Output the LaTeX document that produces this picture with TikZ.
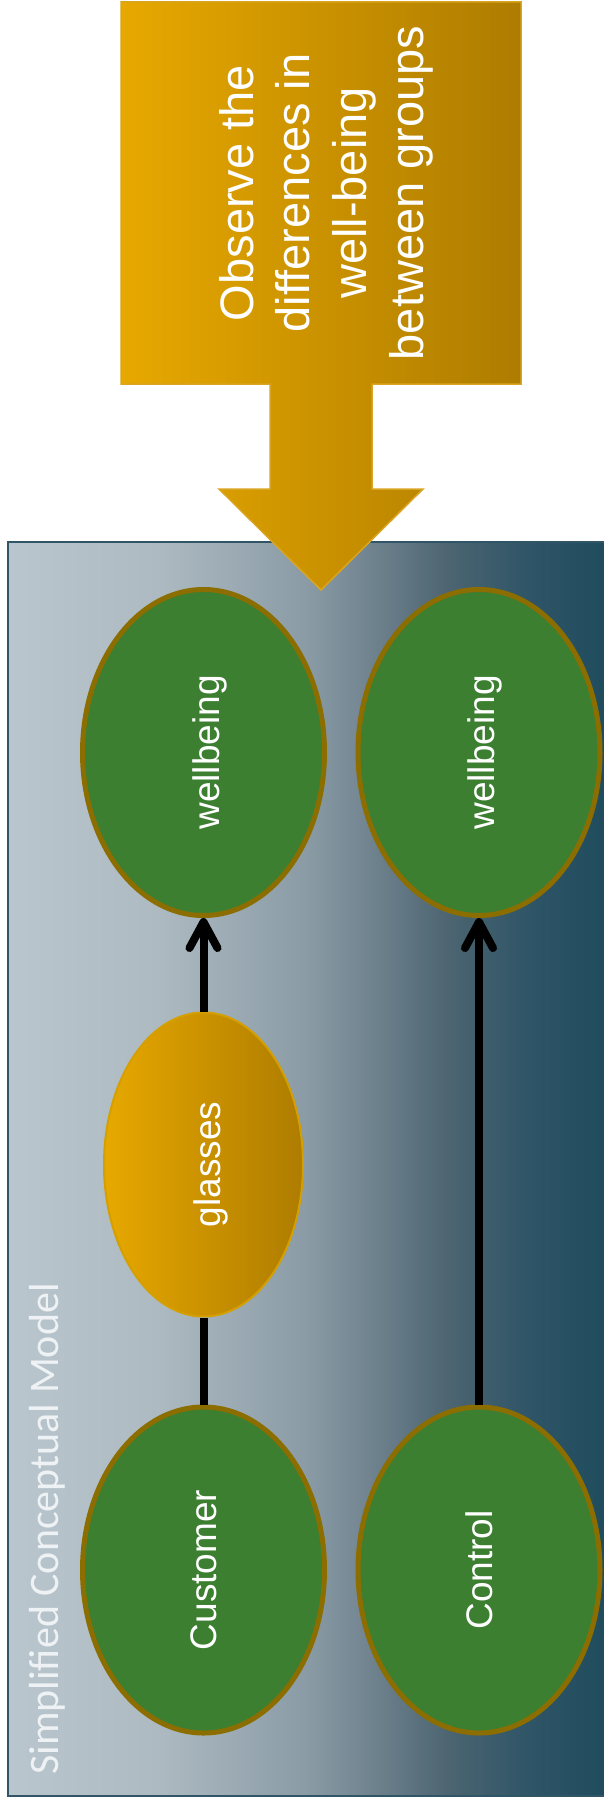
\documentclass[tikz,border=0pt]{standalone}
\usepackage{fontspec}
\usepackage{graphicx}
\setmainfont{Liberation Sans}
\newfontfamily\titlefont{Carlito}
\usetikzlibrary{arrows.meta,shapes.geometric}
\definecolor{ellgreen}{HTML}{3C7F31}
\definecolor{ellborder}{HTML}{8C6D00}
\definecolor{goldL}{HTML}{E7A800}
\definecolor{goldR}{HTML}{AE7C00}
\definecolor{calloutborder}{HTML}{D9A520}
\definecolor{glsborder}{HTML}{D49F00}
\definecolor{panelborder}{HTML}{2F5566}
\definecolor{titlecol}{HTML}{EEF2F4}
\definecolor{pA}{HTML}{BAC6CE}
\definecolor{pB}{HTML}{ADBAC2}
\definecolor{pC}{HTML}{8A9BA5}
\definecolor{pD}{HTML}{6C808C}
\definecolor{pE}{HTML}{4B6470}
\definecolor{pF}{HTML}{2F5567}
\definecolor{pG}{HTML}{1F4C5D}
\pgfdeclarehorizontalshading{panelshade}{100bp}{color(0bp)=(pA); color(25bp)=(pA); color(37.5bp)=(pB); color(50bp)=(pC); color(56bp)=(pD); color(62bp)=(pE); color(68.5bp)=(pF); color(75bp)=(pG); color(100bp)=(pG)}
\newcommand{\vtext}[2]{\rotatebox{90}{\raisebox{-#1}[\height][\depth]{#2}}}
\begin{document}
\begin{tikzpicture}[x=1pt,y=-1pt,
  grp/.style={ellipse, draw=ellborder, line width=5pt, fill=ellgreen,
    minimum width=242pt, minimum height=326pt, inner sep=0pt, text=white,
    font=\fontsize{37}{44}\selectfont},
  gls/.style={ellipse, draw=glsborder, line width=2pt, left color=goldL, right color=goldR,
    minimum width=199pt, minimum height=304pt, inner sep=0pt, text=white,
    font=\fontsize{37}{44}\selectfont},
  conn/.style={line width=8pt, black},
  arr/.style={conn, -{Straight Barb[length=26pt,width=28pt,round]}}
]
\useasboundingbox (0,0) rectangle (604,1803);
% panel
\path[shading=panelshade, draw=panelborder, line width=1.5pt] (8,542) rectangle (606,1796);
\node[rotate=90, anchor=base west, inner sep=0pt, text=titlecol,
  font=\titlefont\fontsize{42}{50}\selectfont] (title) at (58,1775) {Simplified Conceptual Model};
% callout
\path[draw=calloutborder, line width=1.5pt, left color=goldL, right color=goldR]
  (121,2) -- (521,2) -- (521,384) -- (372,384) -- (372,489) -- (423,489) -- (321,590)
  -- (219,489) -- (270,489) -- (270,384) -- (121,384) -- cycle;
\node[rotate=90, align=center, text=white, inner sep=0pt,
  font=\fontsize{47}{56.7}\selectfont] (callout) at (326,193)
  {Observe the\\differences in\\well-being\\between groups};
% nodes
\node[grp] (w1) at (203.5,752.5) {\vtext{6pt}{wellbeing}};
\node[grp] (w2) at (479,752.5) {\vtext{6pt}{wellbeing}};
\node[gls] (gls) at (203.5,1164.5) {\vtext{7pt}{glasses}};
\node[grp] (cust) at (203.5,1570) {\vtext{0pt}{Customer}};
\node[grp] (ctrl) at (479,1570) {\vtext{0pt}{Control}};
% connectors
\draw[conn] (cust) -- (gls);
\draw[arr] (gls) -- (w1);
\draw[arr] (ctrl) -- (w2);
\end{tikzpicture}
\end{document}
